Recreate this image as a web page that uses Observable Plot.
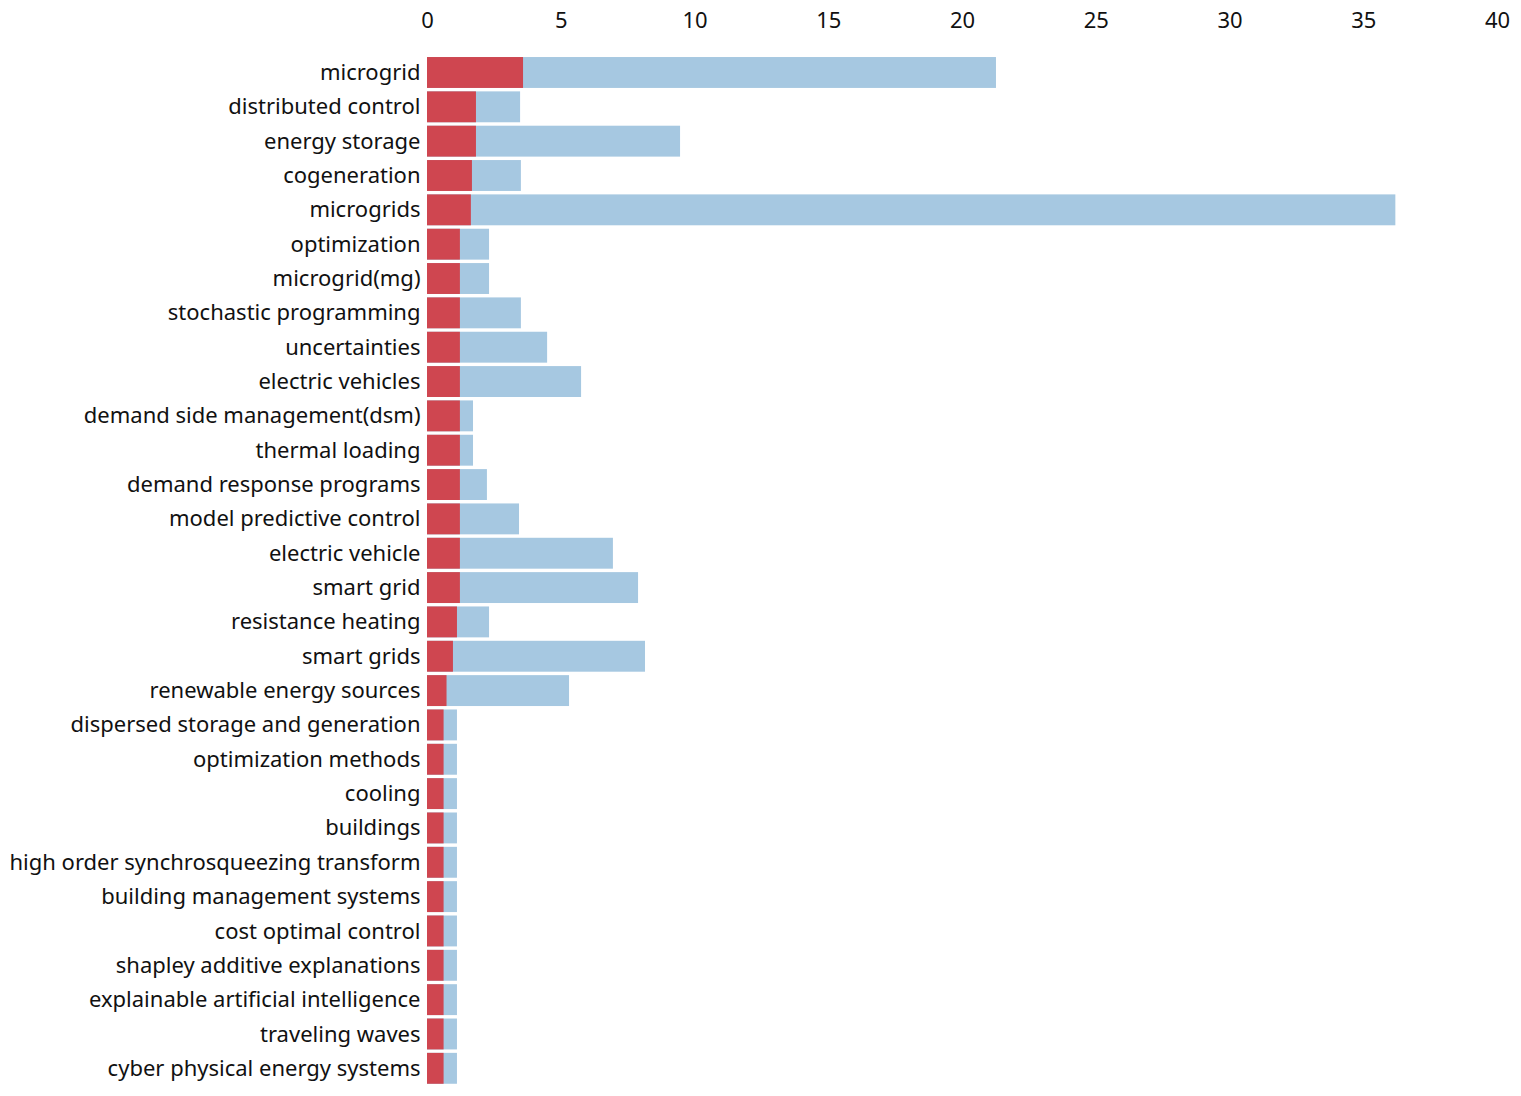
<!DOCTYPE html>
<html>
<head>
<meta charset="utf-8">
<script src="https://cdn.jsdelivr.net/npm/d3@7"></script>
<script src="https://cdn.jsdelivr.net/npm/@observablehq/plot@0.6"></script>
<style>
  body { margin: 0; background: #fff; }
  svg { font-family: "Noto Sans", sans-serif; }
</style>
</head>
<body>
<div id="chart"></div>
<script>
const keywords = [
  "microgrid", "distributed control", "energy storage", "cogeneration", "microgrids",
  "optimization", "microgrid(mg)", "stochastic programming", "uncertainties", "electric vehicles",
  "demand side management(dsm)", "thermal loading", "demand response programs", "model predictive control", "electric vehicle",
  "smart grid", "resistance heating", "smart grids", "renewable energy sources", "dispersed storage and generation",
  "optimization methods", "cooling", "buildings", "high order synchrosqueezing transform", "building management systems",
  "cost optimal control", "shapley additive explanations", "explainable artificial intelligence", "traveling waves", "cyber physical energy systems"
];
const redValues = [
  3.59, 1.83, 1.83, 1.68, 1.64,
  1.23, 1.23, 1.23, 1.23, 1.23,
  1.23, 1.23, 1.23, 1.23, 1.23,
  1.23, 1.12, 0.97, 0.73, 0.62,
  0.62, 0.62, 0.62, 0.62, 0.62,
  0.62, 0.62, 0.62, 0.62, 0.62
];
const blueValues = [
  21.27, 3.48, 9.46, 3.51, 36.2,
  2.32, 2.32, 3.51, 4.49, 5.76,
  1.72, 1.72, 2.24, 3.44, 6.95,
  7.89, 2.32, 8.15, 5.31, 1.12,
  1.12, 1.12, 1.12, 1.12, 1.12,
  1.12, 1.12, 1.12, 1.12, 1.12
];
const xTicks = [0, 5, 10, 15, 20, 25, 30, 35, 40];

const rows = keywords.map((k, i) => ({keyword: k, red: redValues[i], blue: blueValues[i]}));

const chart = Plot.plot({
  width: 1521,
  height: 1096,
  marginLeft: 427,
  marginRight: 24,
  marginTop: 53.6,
  marginBottom: 8.8,
  style: {fontSize: "22px", fontFamily: "'Noto Sans', sans-serif", color: "#111"},
  x: {domain: [0, 40], axis: "top", ticks: xTicks, tickSize: 0, tickPadding: 26.5, label: null},
  y: {domain: keywords, tickSize: 0, tickPadding: 7, label: null, padding: 0.1, round: false},
  marks: [
    Plot.barX(rows, {x: "blue", y: "keyword", fill: "#a6c8e1", inset: 0}),
    Plot.barX(rows, {x: "red", y: "keyword", fill: "#cf4650", inset: 0})
  ]
});
document.getElementById("chart").appendChild(chart);
</script>
</body>
</html>
